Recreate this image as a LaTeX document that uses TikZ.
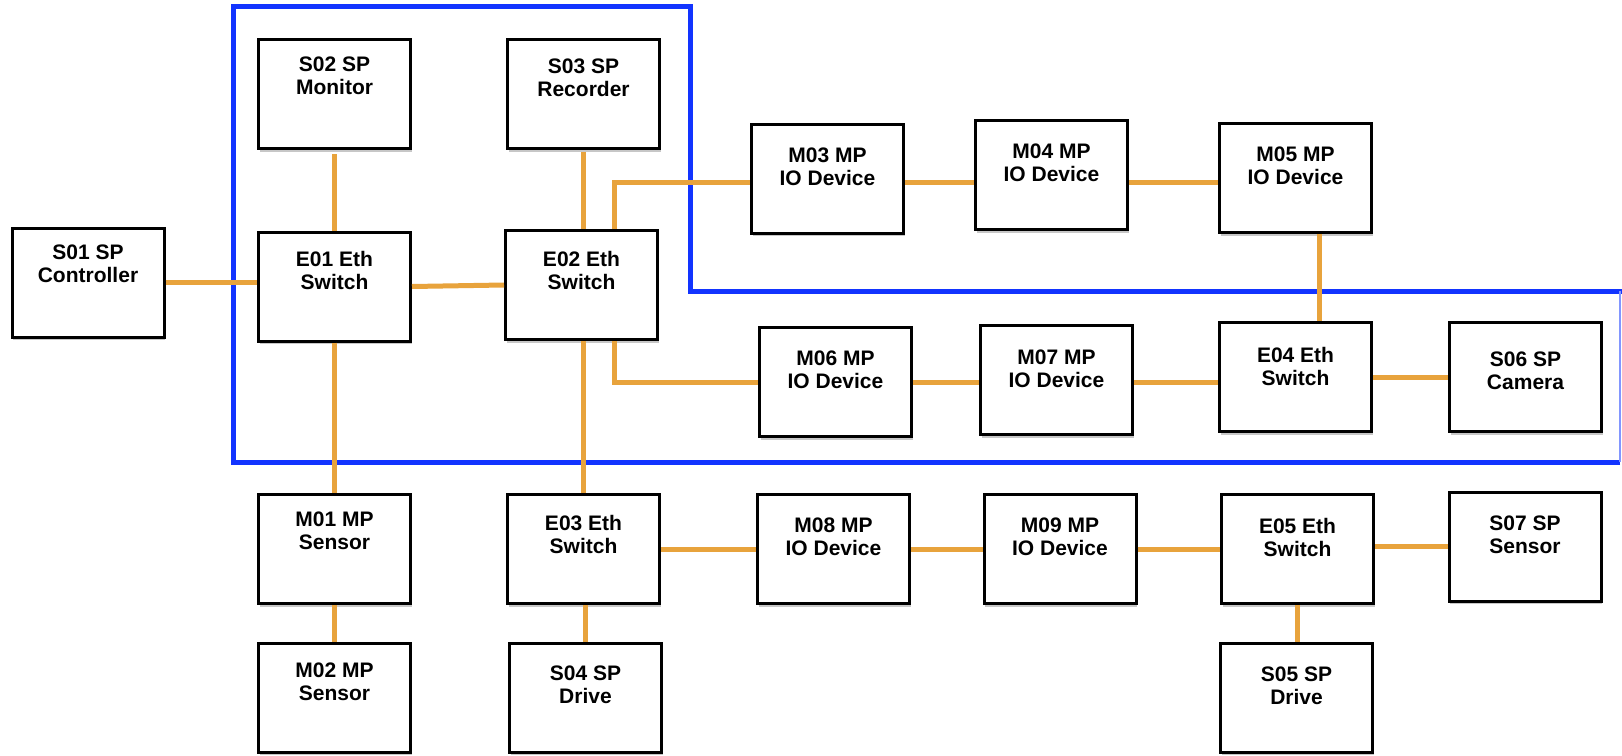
\documentclass[tikz,border=0pt]{standalone}
\usepackage{fontspec}
\setmainfont{Liberation Sans}
\usetikzlibrary{shadows}
\definecolor{wireorange}{RGB}{232,163,60}
\definecolor{frameblue}{RGB}{18,52,255}
\definecolor{framelight}{RGB}{130,150,255}
\tikzset{
  box/.style={draw=black, line width=3pt, fill=white, minimum width=152pt, minimum height=109pt, inner sep=0pt,
    drop shadow={shadow xshift=1pt, shadow yshift=-3pt, opacity=0.22, fill=black}},
  txt/.style={anchor=north, inner sep=0pt, align=center, font=\fontsize{21}{23}\selectfont\bfseries},
  wire/.style={draw=wireorange, line width=5pt},
  frameline/.style={draw=frameblue, line width=5pt, line join=miter},
}
\newcommand\bx[5]{\node[box] (#1) at (#2,#3) {}; \node[txt] (#1t) at ([yshift=-#4pt]#1.north) {#5};}
\begin{document}
\begin{tikzpicture}[x=1pt,y=-1pt]
\useasboundingbox (0,0) rectangle (1622,755);
% blue frame
\draw[frameline] (1620,462) -- (233,462) -- (233,6) -- (690,6) -- (690,291) -- (1622,291);
\draw[framelight, line width=1.5pt] (1620,291) -- (1620,462);
% boxes
\bx{s01}{88}{282.5}{18}{S01 SP\\Controller}
\bx{s02}{334.5}{94}{19}{S02 SP\\Monitor}
\bx{s03}{583.5}{94}{21}{S03 SP\\Recorder}
\bx{e01}{334.5}{286.5}{21}{E01 Eth\\Switch}
\bx{e02}{581.5}{285}{22}{E02 Eth\\Switch}
\bx{m03}{827.5}{178.5}{25}{M03 MP\\IO Device}
\bx{m04}{1051.5}{175}{25}{M04 MP\\IO Device}
\bx{m05}{1295.5}{178}{25}{M05 MP\\IO Device}
\bx{m06}{835.5}{382}{25}{M06 MP\\IO Device}
\bx{m07}{1056.5}{380}{26}{M07 MP\\IO Device}
\bx{e04}{1295.5}{377}{26}{E04 Eth\\Switch}
\bx{s06}{1525.5}{377}{31}{S06 SP\\Camera}
\bx{m01}{334.5}{549}{19}{M01 MP\\Sensor}
\bx{e03}{583.5}{549}{22}{E03 Eth\\Switch}
\bx{m08}{833.5}{549}{25}{M08 MP\\IO Device}
\bx{m09}{1060}{549}{25}{M09 MP\\IO Device}
\bx{e05}{1297.5}{549}{25}{E05 Eth\\Switch}
\bx{s07}{1525}{546.5}{25}{S07 SP\\Sensor}
\bx{m02}{334.5}{697.5}{21}{M02 MP\\Sensor}
\bx{s04}{585.5}{697.5}{24}{S04 SP\\Drive}
\bx{s05}{1296.5}{697.5}{25}{S05 SP\\Drive}
% helper coordinates
\coordinate (yA) at (0,182);
\coordinate (yB) at (0,382);
\coordinate (xA) at (614,0);
\coordinate (xB) at (1319,0);
% connectors
\draw[wire] (s01.east) -- (e01.west |- s01.east);
\draw[wire] (e01.east) -- (e02.west);
\draw[wire] ([yshift=-4pt]s02.south) -- (e01.north);
\draw[wire] ([yshift=-2pt]s03.south) -- (s03.south |- e02.north);
\draw[wire] (e02.north -| xA) -- (xA |- yA) -- (m03.west |- yA);
\draw[wire] (m03.east |- yA) -- (m04.west |- yA);
\draw[wire] (m04.east |- yA) -- (m05.west |- yA);
\draw[wire] (e02.south -| xA) -- (xA |- yB) -- (m06.west |- yB);
\draw[wire] (m06.east |- yB) -- (m07.west |- yB);
\draw[wire] (m07.east |- yB) -- (e04.west |- yB);
\draw[wire] (m05.south -| xB) -- (e04.north -| xB);
\draw[wire] (e04.east) -- (s06.west);
\draw[wire] (e01.south) -- (m01.north);
\draw[wire] (m01.south) -- (m02.north);
\draw[wire] (e03.north |- e02.south) -- (e03.north);
\draw[wire] (s04.north |- e03.south) -- (s04.north);
\draw[wire] (e03.east) -- (m08.west);
\draw[wire] (m08.east) -- (m09.west);
\draw[wire] (m09.east) -- (e05.west);
\draw[wire] (e05.east |- s07.west) -- (s07.west);
\draw[wire] (e05.south) -- (e05.south |- s05.north);
\end{tikzpicture}
\end{document}
